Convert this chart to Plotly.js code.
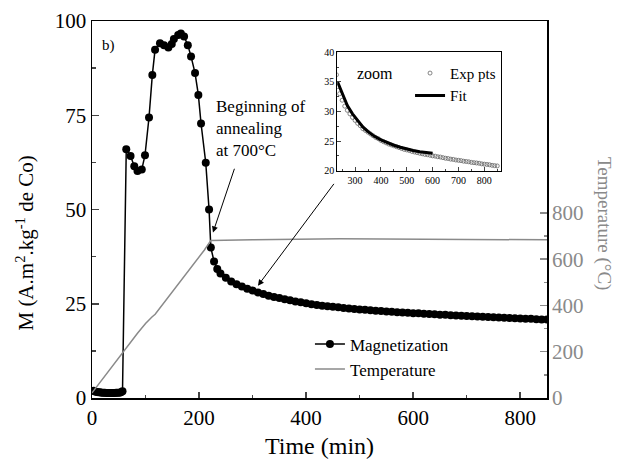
<!DOCTYPE html>
<html><head><meta charset="utf-8">
<script src="https://cdn.plot.ly/plotly-3.0.1.min.js"></script>
<style>html,body{margin:0;padding:0;background:#fff}</style>
</head><body><div id="chart" style="width:618px;height:460px"></div>
<script>
// Early (before jump) magnetization
const tEarly = [3,6,9,12,15,18,21,24,27,30,33,36,39,42,45,48,51,54,57];
const mEarly = [1.9,1.7,1.6,1.5,1.5,1.4,1.4,1.4,1.3,1.3,1.3,1.3,1.3,1.3,1.4,1.4,1.4,1.5,1.8];
// Peak region
const tPeak = [64,72,79,85,93,99,106.5,112.7,117.8,127,134.6,142.7,149,153,161,166,172,179,185,192.5,198.7,203.7,212.5,218.7];
const mPeak = [66.0,64.2,61.5,60.2,60.6,64.4,74.4,85.7,92.4,94.1,93.6,93.0,93.9,95.2,96.3,96.7,95.9,93.6,90.6,86.2,80.4,72.8,62.4,50.0];
// Decay during annealing (also the inset experimental points)
const tDecay = [222,228,234,240,250,260,270,280,290,300,310,320,330,340,350,360,370,380,390,400,410,420,430,440,450,460,470,480,490,500,510,520,530,540,550,560,570,580,590,600,610,620,630,640,650,660,670,680,690,700,710,720,730,740,750,760,770,780,790,800,810,820,830,840,850];
const mDecay = [39.9,36.2,34.2,33.0,31.9,30.9,30.2,29.6,29.0,28.5,28.0,27.6,27.1,26.8,26.5,26.2,25.9,25.6,25.4,25.1,24.9,24.7,24.5,24.35,24.2,24.05,23.9,23.75,23.6,23.5,23.4,23.25,23.15,23.05,22.95,22.85,22.75,22.7,22.6,22.5,22.45,22.35,22.3,22.2,22.1,22.05,21.95,21.9,21.8,21.75,21.7,21.6,21.55,21.5,21.4,21.35,21.3,21.25,21.15,21.1,21.05,21.0,20.9,20.85,20.8];
// Temperature
const tTemp = [0,15,30,45,56,70,85,100,108,112,118,130,150,170,190,210,222,240,300,463,600,850];
const temp = [22,68,112,158,196,236,280,322,343,350,362,398,458,518,578,640,681,682,684,688,686,684];
// Fit (inset)
const tFit = [232,250,270,290,310,330,350,375,400,425,450,475,500,525,550,575,600];
const mFit = [35.0,33.0,31.0,29.6,28.4,27.4,26.6,25.8,25.2,24.7,24.3,23.95,23.65,23.4,23.2,23.05,22.95];

const tMag = tEarly.concat(tPeak, tDecay);
const mMag = mEarly.concat(mPeak, mDecay);

const serif = "'Liberation Serif', 'DejaVu Serif', serif";
const gray = "#8a8a8a";

const traces = [
  {x: tMag, y: mMag, type: 'scatter', mode: 'lines+markers', name: 'Magnetization',
   line: {color: '#000', width: 1.5}, marker: {color: '#000', size: 8}, xaxis: 'x', yaxis: 'y', legend: 'legend'},
  {x: tTemp, y: temp, type: 'scatter', mode: 'lines', name: 'Temperature',
   line: {color: gray, width: 1.5}, xaxis: 'x', yaxis: 'y2', legend: 'legend'},
  {x: tDecay, y: mDecay, type: 'scatter', mode: 'markers', name: 'Exp pts',
   marker: {symbol: 'circle-open', color: '#666', size: 4, line: {width: 0.8, color: '#666'}}, xaxis: 'x3', yaxis: 'y3', legend: 'legend2'},
  {x: tFit, y: mFit, type: 'scatter', mode: 'lines', name: 'Fit',
   line: {color: '#000', width: 3}, xaxis: 'x3', yaxis: 'y3', legend: 'legend2'}
];

const layout = {
  width: 618, height: 460,
  margin: {l: 92, r: 71, t: 21, b: 62},
  paper_bgcolor: '#fff', plot_bgcolor: 'rgba(0,0,0,0)',
  font: {family: serif, color: '#000'},
  showlegend: true,
  xaxis: {range: [0, 850], tickvals: [0,200,400,600,800], ticks: 'inside', ticklen: 6, tickwidth: 1.5,
    minor: {tickvals: [100,300,500,700], ticks: 'inside', ticklen: 3, tickwidth: 1.5},
    showline: true, linewidth: 1.5, linecolor: '#000', mirror: true, showgrid: false, zeroline: false,
    tickfont: {size: 21, family: serif}, title: {text: 'Time (min)', font: {size: 24, family: serif}, standoff: 8}},
  yaxis: {range: [0, 100], tickvals: [0,25,50,75,100], ticks: 'inside', ticklen: 7, tickwidth: 1.5,
    minor: {tickvals: [12.5,37.5,62.5,87.5], ticks: 'inside', ticklen: 4, tickwidth: 1.5},
    showline: true, linewidth: 1.5, linecolor: '#000', mirror: true, showgrid: false, zeroline: false,
    tickfont: {size: 21, family: serif}},
  yaxis2: {range: [0, 1630], overlaying: 'y', side: 'right', tickvals: [0,200,400,600,800],
    ticks: 'inside', ticklen: 7, tickwidth: 1.5, tickcolor: gray, ticklabelstandoff: 4,
    minor: {tickvals: [100,300,500,700], ticks: 'inside', ticklen: 3, tickwidth: 1.5, tickcolor: gray},
    showline: false, showgrid: false, zeroline: false,
    tickfont: {size: 21, family: serif, color: gray}},
  xaxis3: {domain: [0.539, 0.898], anchor: 'y3', range: [231, 863], tickvals: [300,400,500,600,700,800],
    ticks: 'inside', ticklen: 4, tickwidth: 1,
    minor: {tickvals: [250,350,450,550,650,750,850], ticks: 'inside', ticklen: 2, tickwidth: 1},
    showline: true, linewidth: 1, linecolor: '#000', mirror: true, showgrid: false, zeroline: false,
    tickfont: {size: 10, family: serif}},
  yaxis3: {domain: [0.603, 0.917], anchor: 'x3', range: [20, 40], tickvals: [20,25,30,35,40],
    ticks: 'inside', ticklen: 4, tickwidth: 1,
    minor: {tickvals: [22.5,27.5,32.5,37.5], ticks: 'inside', ticklen: 2, tickwidth: 1},
    showline: true, linewidth: 1, linecolor: '#000', mirror: true, showgrid: false, zeroline: false,
    tickfont: {size: 10, family: serif}},
  legend: {x: 0.479, y: 0.19, xanchor: 'left', yanchor: 'top', bgcolor: 'rgba(0,0,0,0)',
    font: {size: 17, family: serif}, tracegroupgap: 0, itemwidth: 30},
  legend2: {x: 0.699, y: 0.905, xanchor: 'left', yanchor: 'top', bgcolor: 'rgba(0,0,0,0)',
    font: {size: 15, family: serif}, itemwidth: 30},
  annotations: [
    {text: 'M (A.m<sup>2</sup>.kg<sup>-1</sup> de Co)', xref: 'paper', yref: 'paper', x: -0.147, y: 0.41,
     xanchor: 'center', yanchor: 'middle', textangle: -90, showarrow: false, font: {size: 21, family: serif}},
    {text: 'Temperature (°C)', xref: 'paper', yref: 'paper', x: (604-92)/455, y: (398-223)/377,
     xanchor: 'center', yanchor: 'middle', textangle: 90, showarrow: false, font: {size: 19, family: serif, color: gray}},
    {text: 'b)', xref: 'x', yref: 'y', x: 30, y: 93.4, showarrow: false, font: {size: 15, family: serif}},
    {text: 'Beginning of<br>annealing<br>at 700°C', xref: 'x', yref: 'y', x: 228, y: 71.5, xanchor: 'left',
     align: 'left', showarrow: false, font: {size: 17, family: serif}},
    {text: 'zoom', xref: 'paper', yref: 'paper', x: (375-92)/455, y: (398-73)/377, xanchor: 'center', yanchor: 'middle',
     showarrow: false, font: {size: 16, family: serif}},
    {text: '', xref: 'x', yref: 'y', x: 226, y: 43.9, axref: 'x', ayref: 'y', ax: 267, ay: 61.2,
     showarrow: true, arrowhead: 2, arrowsize: 1.2, arrowwidth: 1, arrowcolor: '#000'},
    {text: '', xref: 'x', yref: 'y', x: 310, y: 29.8, axref: 'x', ayref: 'y', ax: 454, ay: 57.2,
     showarrow: true, arrowhead: 2, arrowsize: 1.2, arrowwidth: 1, arrowcolor: '#000'}
  ]
};

Plotly.newPlot('chart', traces, layout, {displayModeBar: false, staticPlot: true});
</script>
</body></html>
